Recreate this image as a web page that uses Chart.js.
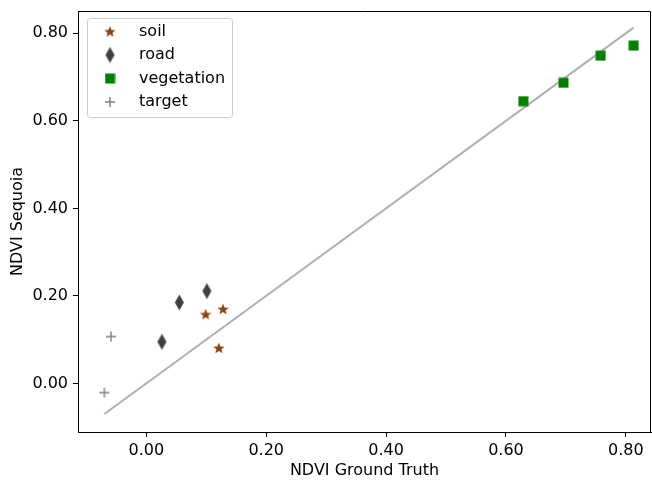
<!DOCTYPE html>
<html>
<head>
<meta charset="utf-8">
<script src="https://cdn.jsdelivr.net/npm/chart.js@4/dist/chart.umd.min.js"></script>
<style>
  body { margin: 0; background: #fff; }
  #wrap { width: 652px; height: 483px; }
</style>
</head>
<body>
<div id="wrap"><canvas id="ndviChart" width="652" height="483"></canvas></div>
<script>
// --------------------
// Data
// --------------------
const soilX = [0.099, 0.128, 0.121];
const soilY = [0.158, 0.170, 0.081];
const roadX = [0.026, 0.055, 0.101];
const roadY = [0.095, 0.185, 0.211];
const vegX = [0.629, 0.696, 0.758, 0.813];
const vegY = [0.645, 0.687, 0.749, 0.772];
const targetX = [-0.059, -0.070];
const targetY = [0.107, -0.021];
const lineX = [-0.070, 0.813];
const lineY = [-0.070, 0.813];
const xTicks = [0, 0.2, 0.4, 0.6, 0.8];
const yTicks = [0, 0.2, 0.4, 0.6, 0.8];

const FONT = "'DejaVu Sans', sans-serif";

function toPoints(xs, ys) {
  return xs.map((x, i) => ({ x: x, y: ys[i] }));
}

// --------------------
// Marker images (matplotlib style)
// --------------------
function makeStar(color) {
  const c = document.createElement("canvas");
  c.width = 14; c.height = 14;
  const g = c.getContext("2d");
  g.fillStyle = color;
  g.beginPath();
  for (let i = 0; i < 10; i++) {
    const r = i % 2 === 0 ? 6 : 2.6;
    const a = -Math.PI / 2 + i * Math.PI / 5;
    const px = 7 + r * Math.cos(a);
    const py = 7.5 + r * Math.sin(a);
    if (i === 0) g.moveTo(px, py); else g.lineTo(px, py);
  }
  g.closePath();
  g.fill();
  return c;
}

function makeDiamond(color) {
  const c = document.createElement("canvas");
  c.width = 11; c.height = 17;
  const g = c.getContext("2d");
  g.fillStyle = color;
  g.beginPath();
  g.moveTo(5.5, 0.5);
  g.lineTo(10, 8.5);
  g.lineTo(5.5, 16.5);
  g.lineTo(1, 8.5);
  g.closePath();
  g.fill();
  return c;
}

function makeSquare(color) {
  const c = document.createElement("canvas");
  c.width = 11; c.height = 11;
  const g = c.getContext("2d");
  g.fillStyle = color;
  g.fillRect(0.5, 0.5, 10, 10);
  return c;
}

function makePlus(color) {
  const c = document.createElement("canvas");
  c.width = 12; c.height = 12;
  const g = c.getContext("2d");
  g.strokeStyle = color;
  g.lineWidth = 1.4;
  g.beginPath();
  g.moveTo(1, 6); g.lineTo(11, 6);
  g.moveTo(6, 1); g.lineTo(6, 11);
  g.stroke();
  return c;
}

const starImg = makeStar("#8b4513");
const diamondImg = makeDiamond("#3f3f3f");
const squareImg = makeSquare("#008000");
const plusImg = makePlus("#808080");

// --------------------
// Frame + legend plugin
// --------------------
const framePlugin = {
  id: "frame",
  afterDraw(chart) {
    const { ctx, chartArea: a } = chart;
    ctx.save();
    ctx.strokeStyle = "#000";
    ctx.lineWidth = 1;
    ctx.beginPath();
    ctx.moveTo(a.left, a.top + 0.5);
    ctx.lineTo(a.right - 0.5, a.top + 0.5);
    ctx.lineTo(a.right - 0.5, a.bottom);
    ctx.stroke();

    // legend box inside the axes, top left
    const items = chart.data.datasets.filter((d) => d.inLegend);
    const bx = 87.5, by = 18.5, bw = 145, bh = 99;
    ctx.fillStyle = "rgba(255,255,255,0.8)";
    ctx.strokeStyle = "#cccccc";
    ctx.beginPath();
    ctx.roundRect(bx, by, bw, bh, 3);
    ctx.fill();
    ctx.stroke();
    ctx.font = "16px " + FONT;
    ctx.textBaseline = "middle";
    ctx.fillStyle = "#000";
    items.forEach((d, i) => {
      const yy = 31.5 + i * 23.5;
      const img = d.pointStyle;
      ctx.drawImage(img, 110 - img.width / 2, yy - img.height / 2);
      ctx.fillText(d.label, 139, yy);
    });
    ctx.restore();
  },
};

// --------------------
// Chart
// --------------------
const ctx = document.getElementById("ndviChart").getContext("2d");

const ndviChart = new Chart(ctx, {
  type: "scatter",
  data: {
    datasets: [
      {
        label: "soil",
        data: toPoints(soilX, soilY),
        pointStyle: starImg,
        inLegend: true,
        order: 1,
      },
      {
        label: "road",
        data: toPoints(roadX, roadY),
        pointStyle: diamondImg,
        inLegend: true,
        order: 1,
      },
      {
        label: "vegetation",
        data: toPoints(vegX, vegY),
        pointStyle: squareImg,
        inLegend: true,
        order: 1,
      },
      {
        label: "target",
        data: toPoints(targetX, targetY),
        pointStyle: plusImg,
        inLegend: true,
        order: 1,
      },
      {
        type: "line",
        label: "1:1",
        data: toPoints(lineX, lineY),
        borderColor: "#b0b0b0",
        borderWidth: 2,
        pointRadius: 0,
        fill: false,
        order: 10,
      },
    ],
  },
  options: {
    responsive: false,
    animation: false,
    layout: { autoPadding: false, padding: { top: 11, right: 1, left: 0, bottom: 0 } },
    plugins: {
      legend: { display: false },
      tooltip: { enabled: false },
    },
    scales: {
      x: {
        type: "linear",
        min: -0.114,
        max: 0.842,
        afterBuildTicks: (s) => { s.ticks = xTicks.map((v) => ({ value: v })); },
        afterFit: (s) => {
          s.height = 51;
          s.paddingLeft = 0;
          s.paddingRight = 0;
        },
        ticks: {
          color: "#000",
          font: { family: FONT, size: 16 },
          padding: 4,
          callback: (v) => Number(v).toFixed(2),
        },
        grid: { drawOnChartArea: false, tickLength: 5, color: "#000" },
        border: { display: true, color: "#000", width: 1 },
        title: {
          display: true,
          text: "NDVI Ground Truth",
          color: "#000",
          font: { family: FONT, size: 16 },
          padding: { top: 2, bottom: 3 },
        },
      },
      y: {
        type: "linear",
        min: -0.111,
        max: 0.851,
        afterBuildTicks: (s) => { s.ticks = yTicks.map((v) => ({ value: v })); },
        afterFit: (s) => {
          s.width = 78;
          s.paddingTop = 0;
          s.paddingBottom = 0;
        },
        ticks: {
          color: "#000",
          font: { family: FONT, size: 16 },
          padding: 5,
          callback: (v) => Number(v).toFixed(2),
        },
        grid: { drawOnChartArea: false, tickLength: 5, color: "#000" },
        border: { display: true, color: "#000", width: 1 },
        title: {
          display: true,
          text: "NDVI Sequoia",
          color: "#000",
          font: { family: FONT, size: 16 },
          padding: { top: 8, bottom: 2 },
        },
      },
    },
  },
  plugins: [framePlugin],
});
</script>
</body>
</html>
